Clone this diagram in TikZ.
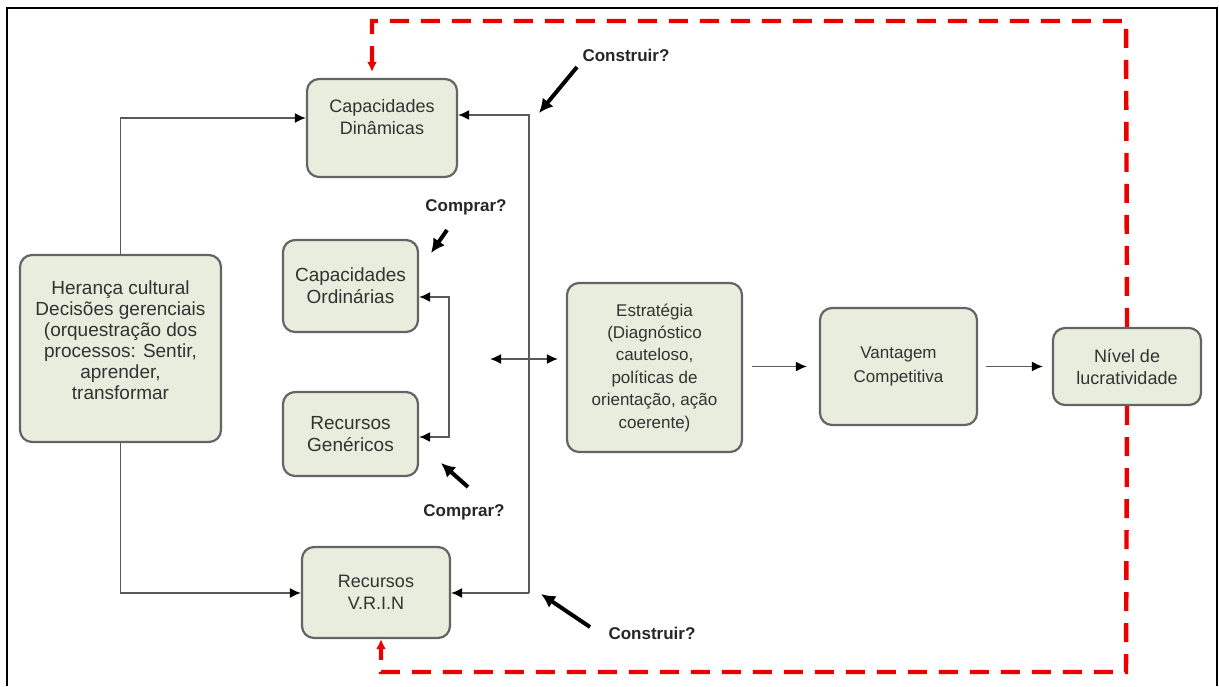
\documentclass[tikz,border=0pt]{standalone}
\usepackage{fontspec}
\setmainfont{Liberation Sans}
\usepackage{xcolor}
\usepackage{tikz}
\usetikzlibrary{arrows.meta,shapes,calc,backgrounds}
\definecolor{boxfill}{RGB}{233,237,221}
\definecolor{boxline}{RGB}{100,100,100}
\definecolor{txtgray}{RGB}{50,50,50}
\definecolor{conngray}{RGB}{90,90,90}
\definecolor{loopred}{RGB}{235,0,0}
\tikzstyle{blk}=[rectangle, rounded corners=6pt, draw=boxline, fill=boxfill,% caixas verde-claro
line width=1.1pt, align=center, text=txtgray, font=\fontsize{9}{11}\selectfont]
\tikzstyle{conn}=[draw=conngray, line width=0.8pt, >={Latex[length=5.5pt,width=5pt,color=black]}]
\tikzstyle{quest}=[font=\bfseries\fontsize{8.5}{10}\selectfont, text=black!85, inner sep=1pt]
\tikzstyle{bigarr}=[-{Latex[length=7pt,width=7pt]}, line width=2pt, black]
\tikzstyle{fb}=[loopred, line width=2.2pt, dash pattern=on 9.5pt off 6pt,% retorno tracejado
-{Latex[length=5pt,width=5pt]}]

\begin{document}
\begin{tikzpicture}[x=0.5pt,y=-0.5pt]
\useasboundingbox (0,0) rectangle (1219,686);
\draw[line width=1.2pt] (7,686) -- (7,8) -- (1217,8) -- (1217,686);

\node[blk, minimum width=75pt, minimum height=49pt, text height=10pt, text depth=14pt] (cd) at (382,128)
  {\begin{tabular}{@{}c@{}}Capacidades\\Dinâmicas\end{tabular}};
\node[blk, minimum width=67.5pt, minimum height=46pt, font=\fontsize{9.5}{11}\selectfont] (co) at (350.5,286) {Capacidades\\Ordinárias};
\node[blk, minimum width=67.5pt, minimum height=42pt, font=\fontsize{9.5}{11}\selectfont] (rg) at (350.5,434) {Recursos\\Genéricos};
\node[blk, minimum width=74pt, minimum height=45.5pt] (rv) at (376,592.5) {Recursos\\V.R.I.N};
\node[blk, minimum width=100.5pt, minimum height=93.5pt, font=\fontsize{9.5}{10.5}\selectfont,
  text height=10pt, text depth=11.5pt] (her) at (120.5,348.5)
  {\begin{tabular}{@{}c@{}}Herança cultural\\Decisões gerenciais\\(orquestração dos\\processos: Sentir,\\aprender,\\transformar\end{tabular}};
\node[blk, minimum width=87.5pt, minimum height=84.5pt, font=\fontsize{8.5}{11.2}\selectfont] (est) at (654.5,367.5)
  {Estratégia\\(Diagnóstico\\cauteloso,\\políticas de\\orientação, ação\\coerente)};
\node[blk, minimum width=78.5pt, minimum height=58.5pt, font=\fontsize{8.5}{12}\selectfont] (vc) at (898.5,366.5) {Vantagem\\Competitiva};
\node[blk, minimum width=74pt, minimum height=38.5pt] (nl) at (1127,366.5) {Nível de\\lucratividade};

% retorno em vermelho (atras das caixas)
\coordinate (r1) at (372,21);
\coordinate (r2) at (1126,21);
\coordinate (r3) at (1126,672);
\coordinate (r4) at (381,672);
\begin{pgfonlayer}{background}
\draw[fb] (nl.north) -- (r2) -- (r1) -- ([yshift=3pt]cd.north -| r1);
\draw[fb] (nl.south) -- (r3) -- (r4) -- (rv.south -| r4);
\end{pgfonlayer}

% ligacoes
\coordinate (lt) at (120,118);
\coordinate (lb) at (120,593);
\coordinate (rt) at (529,115);
\coordinate (rb) at (529,593);
\coordinate (bt) at (449,297);
\coordinate (bb) at (449,437);
\coordinate (da) at (490,359);

\draw[conn,->] (her.north) |- (cd.west |- lt);
\draw[conn,->] (her.south) |- (rv.west |- lb);
\draw[conn,->] (rb) -- (rt) -- (cd.east |- rt);
\draw[conn,->] (rb) -- (rv.east |- rb);
\draw[conn,<->] (co.east |- bt) -- (bt) -- (bb) -- (rg.east |- bb);
\draw[conn,<->, shorten >=4pt] (da) -- (est.west |- da);
\draw[conn,->, shorten <=4.5pt, shorten >=6pt] (est.east |- vc.west) -- (vc.west);
\draw[conn,->, shorten <=4pt, shorten >=4.5pt] (vc.east) -- (nl.west);

% perguntas
\node[quest] (ct) at (626,55) {Construir?};
\node[quest] (cp1) at (466,207) {Comprar?};
\node[quest] (cp2) at (464,512) {Comprar?};
\node[quest] (cb) at (652,633) {Construir?};
\coordinate (ctt) at (539,113);
\coordinate (cp1t) at (431,253);
\coordinate (cp2t) at (441,463);
\coordinate (cbt) at (541,594);
\draw[bigarr] (577,67) -- (ctt);
\draw[bigarr] (447,230) -- (cp1t);
\draw[bigarr] (468,487) -- (cp2t);
\draw[bigarr] (590,627) -- (cbt);
\end{tikzpicture}
\end{document}
